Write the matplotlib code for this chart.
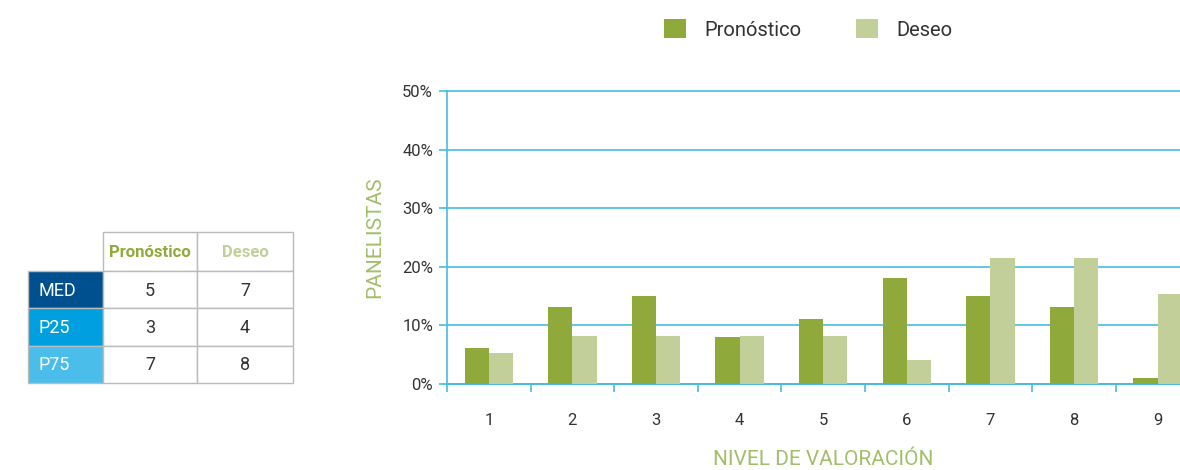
import numpy as np
import matplotlib
matplotlib.use("Agg")
import matplotlib.pyplot as plt
from matplotlib.patches import Rectangle

plt.rcParams['font.family'] = ['Roboto', 'DejaVu Sans']

# datos del gráfico
niveles = [1, 2, 3, 4, 5, 6, 7, 8, 9]
pronostico = [6.1, 13.1, 15.0, 8.0, 11.1, 18.1, 15.0, 13.1, 1.1]
deseo = [5.3, 8.2, 8.2, 8.2, 8.2, 4.1, 21.5, 21.5, 15.4]
series = ["Pronóstico", "Deseo"]

# datos de la tabla
filas = ["MED", "P25", "P75"]
tabla_pron = [5, 3, 7]
tabla_deseo = [7, 4, 8]

c_pron = "#8FAA3A"
c_deseo = "#C2CF98"
c_grid = "#45BBE8"
c_label = "#A3BE6A"
c_filas = ["#00508F", "#00A0E0", "#4BBDEB"]

W, H = 1180, 470
fig = plt.figure(figsize=(W / 100, H / 100), dpi=100)

# ---- gráfico de barras
ax = fig.add_axes([447 / W, 1 - 384 / H, 9 * 83.6 / W, (384 - 91) / H])
x = np.array(niveles)
bw = 0.29
ax.bar(x - bw / 2, pronostico, bw, color=c_pron, label=series[0], zorder=3)
ax.bar(x + bw / 2, deseo, bw, color=c_deseo, label=series[1], zorder=3)
ax.set_xlim(0.5, 9.5)
ax.set_ylim(0, 50)
ax.set_yticks(np.arange(0, 51, 10))
ax.set_yticklabels([f"{v}%" for v in range(0, 51, 10)])
ax.yaxis.grid(True, color=c_grid, linewidth=1.2, zorder=0)
for gl in ax.get_ygridlines():
    gl.set_clip_on(False)
ax.set_xticks(x)
ax.set_xticks(np.arange(0.5, 9.6, 1), minor=True)
ax.tick_params(axis="x", which="major", length=0, pad=21, labelsize=12, labelcolor="#333333")
ax.tick_params(axis="x", which="minor", length=6, color=c_grid, width=1.2)
ax.tick_params(axis="y", length=6, color=c_grid, width=1.2, labelsize=12, labelcolor="#333333", pad=4)
for s in ["top", "right"]:
    ax.spines[s].set_visible(False)
for s in ["left", "bottom"]:
    ax.spines[s].set_color(c_grid)
    ax.spines[s].set_linewidth(1.2)
ax.set_ylabel("PANELISTAS", color=c_label, fontsize=15, labelpad=13)
ax.set_xlabel("NIVEL DE VALORACIÓN", color=c_label, fontsize=15)
ax.xaxis.set_label_coords(0.5, -0.225)

leg = fig.legend(loc="upper left", bbox_to_anchor=(646 / W, 1 - 1 / H), ncol=2, frameon=False,
                 fontsize=14.5, handlelength=1.1, handleheight=1.1, columnspacing=2.7,
                 handletextpad=0.9, labelcolor="#333333")

# ---- tabla
tx = fig.add_axes([0, 0, 1, 1])
tx.set_xlim(0, W)
tx.set_ylim(H, 0)
tx.axis("off")
cols = [28, 103, 197, 293]
rows = [232, 271, 308, 346, 383]
borde = "#BBBBBB"

# cabecera
for j, (nombre, col) in enumerate(zip(series, [c_pron, c_deseo])):
    tx.add_patch(Rectangle((cols[j + 1], rows[0]), cols[j + 2] - cols[j + 1], rows[1] - rows[0],
                           facecolor="white", edgecolor=borde, linewidth=1))
    tx.text((cols[j + 1] + cols[j + 2]) / 2, (rows[0] + rows[1]) / 2 + 1, nombre, color=col,
            fontsize=12, fontweight="bold", ha="center", va="center")

for i, fila in enumerate(filas):
    y0, y1 = rows[i + 1], rows[i + 2]
    tx.add_patch(Rectangle((cols[0], y0), cols[1] - cols[0], y1 - y0,
                           facecolor=c_filas[i], edgecolor=borde, linewidth=1))
    tx.text(cols[0] + 10, (y0 + y1) / 2 + 1, fila, color="white", fontsize=13,
            ha="left", va="center")
    for j, val in enumerate([tabla_pron[i], tabla_deseo[i]]):
        tx.add_patch(Rectangle((cols[j + 1], y0), cols[j + 2] - cols[j + 1], y1 - y0,
                               facecolor="white", edgecolor=borde, linewidth=1))
        tx.text((cols[j + 1] + cols[j + 2]) / 2, (y0 + y1) / 2 + 1, str(val), color="#333333",
                fontsize=13, ha="center", va="center")

fig.savefig("out.png", dpi=100)
